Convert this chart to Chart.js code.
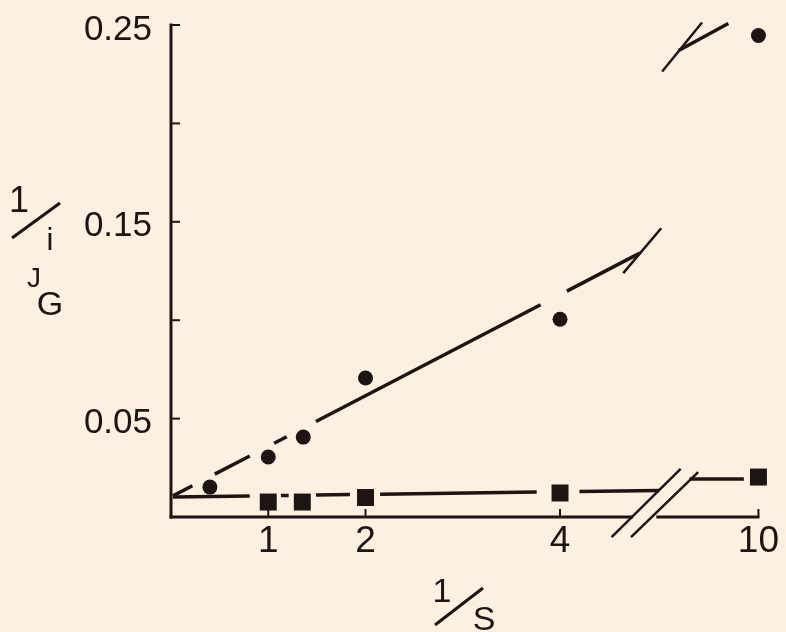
<!DOCTYPE html>
<html>
<head>
<meta charset="utf-8">
<script src="https://cdn.jsdelivr.net/npm/chart.js@4.4.0/dist/chart.umd.min.js"></script>
<style>
html, body { margin: 0; padding: 0; background: #fcf0e1; }
#wrap { width: 786px; height: 632px; }
</style>
</head>
<body>
<div id="wrap"><canvas id="grafico" width="786" height="632"></canvas></div>
<script>
const TINTA = '#1d1414';
const FONDO = '#fcf0e1';
const FUENTE = '"Liberation Sans", Arial, sans-serif';

// eje x roto: el 10 va justo despues del corte
const POS_DIEZ = 6.04;
const xPos = v => (v === 10 ? POS_DIEZ : v);

const xTicks = [1, 2, 4, 10];
const xTickLabels = ['1', '2', '4', '10'];
const yTicks = [0, 0.05, 0.10, 0.15, 0.20, 0.25];
const yTickLabels = ['', '0.05', '', '0.15', '', '0.25'];

// circulos
const circX = [0.4, 1, 1.36, 2, 4, 10];
const circY = [0.0152, 0.0305, 0.0406, 0.0706, 0.1005, 0.2447];
// cuadrados
const cuadX = [1, 1.35, 2, 4, 10];
const cuadY = [0.0076, 0.0076, 0.0099, 0.0122, 0.0203];

// rectas ajustadas [ordenada, pendiente], dibujadas a trozos
const circRecta = [0.0102, 0.0257];
const circTrozos = [[0.02, 0.22], [0.45, 0.81], [1.06, 1.19], [1.49, 3.80], [4.07, 4.82]];
const circTrasCorte = [[5.22, 0.237], [5.73, 0.2508]];
const cuadRecta = [0.0102, 0.00065];
const cuadTrozos = [[0.02, 0.81], [1.13, 1.21], [1.49, 1.84], [2.15, 3.76], [4.2, 5.02]];
const cuadTrasCorte = [[5.33, 0.0193], [5.89, 0.0193]];

// marcas de corte (unidades de datos)
const marcasCorte = [
    [[4.53, -0.0102], [5.24, 0.0244]],
    [[4.73, -0.0102], [5.42, 0.0228]],
    [[4.65, 0.1239], [5.04, 0.1467]],
    [[5.05, 0.2264], [5.46, 0.2513]]
];
const huecoEjeX = [4.75, 4.99];

function trozos(piezas, recta, extra) {
    const out = [];
    piezas.forEach(([a, b]) => {
        out.push({ x: a, y: recta[0] + recta[1] * a });
        out.push({ x: b, y: recta[0] + recta[1] * b });
        out.push({ x: b, y: null });
    });
    extra.forEach(([x, y]) => out.push({ x, y }));
    return out;
}

const ejesYTitulos = {
    id: 'ejesYTitulos',
    beforeDraw(chart) {
        const ctx = chart.ctx;
        ctx.save();
        ctx.fillStyle = FONDO;
        ctx.fillRect(0, 0, chart.width, chart.height);
        ctx.restore();
    },
    afterDraw(chart) {
        const ctx = chart.ctx;
        const sx = chart.scales.x, sy = chart.scales.y;
        const x0 = sx.getPixelForValue(0), y0 = sy.getPixelForValue(0);
        ctx.save();
        ctx.strokeStyle = TINTA;
        ctx.fillStyle = TINTA;
        ctx.lineCap = 'butt';

        // eje y
        ctx.lineWidth = 3;
        ctx.beginPath();
        ctx.moveTo(x0, y0 + 1.5);
        ctx.lineTo(x0, sy.getPixelForValue(0.25) - 1.5);
        ctx.stroke();
        ctx.lineWidth = 2;
        yTicks.forEach(v => {
            if (v === 0) return;
            const py = sy.getPixelForValue(v);
            ctx.beginPath();
            ctx.moveTo(x0, py);
            ctx.lineTo(x0 + 9, py);
            ctx.stroke();
        });

        // eje x, con hueco en el corte
        ctx.lineWidth = 3;
        ctx.beginPath();
        ctx.moveTo(x0 - 1.5, y0);
        ctx.lineTo(sx.getPixelForValue(huecoEjeX[0]), y0);
        ctx.moveTo(sx.getPixelForValue(huecoEjeX[1]), y0);
        ctx.lineTo(sx.getPixelForValue(POS_DIEZ) + 1, y0);
        ctx.stroke();
        ctx.lineWidth = 2;
        xTicks.forEach(v => {
            const px = sx.getPixelForValue(xPos(v));
            ctx.beginPath();
            ctx.moveTo(px, y0);
            ctx.lineTo(px, y0 - 8);
            ctx.stroke();
        });

        // marcas de corte
        ctx.lineWidth = 2.5;
        marcasCorte.forEach(([a, b]) => {
            ctx.beginPath();
            ctx.moveTo(sx.getPixelForValue(a[0]), sy.getPixelForValue(a[1]));
            ctx.lineTo(sx.getPixelForValue(b[0]), sy.getPixelForValue(b[1]));
            ctx.stroke();
        });

        // titulo eje y: 1/i J_G
        ctx.textAlign = 'center';
        ctx.textBaseline = 'alphabetic';
        ctx.font = '36px ' + FUENTE;
        ctx.fillText('1', 19, 212);
        ctx.lineWidth = 3;
        ctx.beginPath();
        ctx.moveTo(12, 238);
        ctx.lineTo(60, 203);
        ctx.stroke();
        ctx.font = '31px ' + FUENTE;
        ctx.fillText('i', 50, 250);
        ctx.font = '28px ' + FUENTE;
        ctx.fillText('J', 34, 287);
        ctx.font = '34px ' + FUENTE;
        ctx.fillText('G', 50, 315);

        // titulo eje x: 1/S
        ctx.font = '34px ' + FUENTE;
        ctx.fillText('1', 442, 602);
        ctx.beginPath();
        ctx.moveTo(435, 625);
        ctx.lineTo(483, 588);
        ctx.stroke();
        ctx.fillText('S', 484, 630);
        ctx.restore();
    }
};

new Chart(document.getElementById('grafico'), {
    type: 'scatter',
    data: {
        datasets: [
            {
                type: 'line',
                data: trozos(circTrozos, circRecta, circTrasCorte),
                borderColor: TINTA,
                borderWidth: 3.5,
                pointRadius: 0,
                spanGaps: false,
                fill: false,
                clip: false
            },
            {
                type: 'line',
                data: trozos(cuadTrozos, cuadRecta, cuadTrasCorte),
                borderColor: TINTA,
                borderWidth: 3.5,
                pointRadius: 0,
                spanGaps: false,
                fill: false,
                clip: false
            },
            {
                data: circX.map((x, i) => ({ x: xPos(x), y: circY[i] })),
                pointStyle: 'circle',
                pointRadius: 7.5,
                backgroundColor: TINTA,
                borderWidth: 0,
                clip: false
            },
            {
                data: cuadX.map((x, i) => ({ x: xPos(x), y: cuadY[i] })),
                pointStyle: 'rect',
                pointRadius: 12,
                backgroundColor: TINTA,
                borderWidth: 0,
                clip: false
            }
        ]
    },
    options: {
        responsive: false,
        animation: false,
        layout: { padding: { top: 25, right: 8, bottom: 0, left: 0 } },
        plugins: { legend: { display: false }, tooltip: { enabled: false } },
        scales: {
            x: {
                type: 'linear',
                min: 0,
                max: 6.2,
                grid: { display: false },
                border: { display: false },
                afterBuildTicks: s => { s.ticks = xTicks.map(v => ({ value: xPos(v) })); },
                afterFit: s => { s.height = 115; },
                ticks: {
                    autoSkip: false,
                    maxRotation: 0,
                    padding: -5,
                    color: TINTA,
                    font: { family: FUENTE, size: 37 },
                    callback: v => xTickLabels[xTicks.findIndex(t => xPos(t) === v)]
                }
            },
            y: {
                min: 0,
                max: 0.25,
                grid: { display: false },
                border: { display: false },
                afterBuildTicks: s => { s.ticks = yTicks.map(v => ({ value: v })); },
                afterFit: s => {
                    s.width = 171;
                    s.paddingTop = 0;
                    s.paddingBottom = 0;
                },
                ticks: {
                    padding: 11,
                    labelOffset: 5,
                    color: TINTA,
                    font: { family: FUENTE, size: 35 },
                    callback: (v, i) => yTickLabels[i]
                }
            }
        }
    },
    plugins: [ejesYTitulos]
});
</script>
</body>
</html>
